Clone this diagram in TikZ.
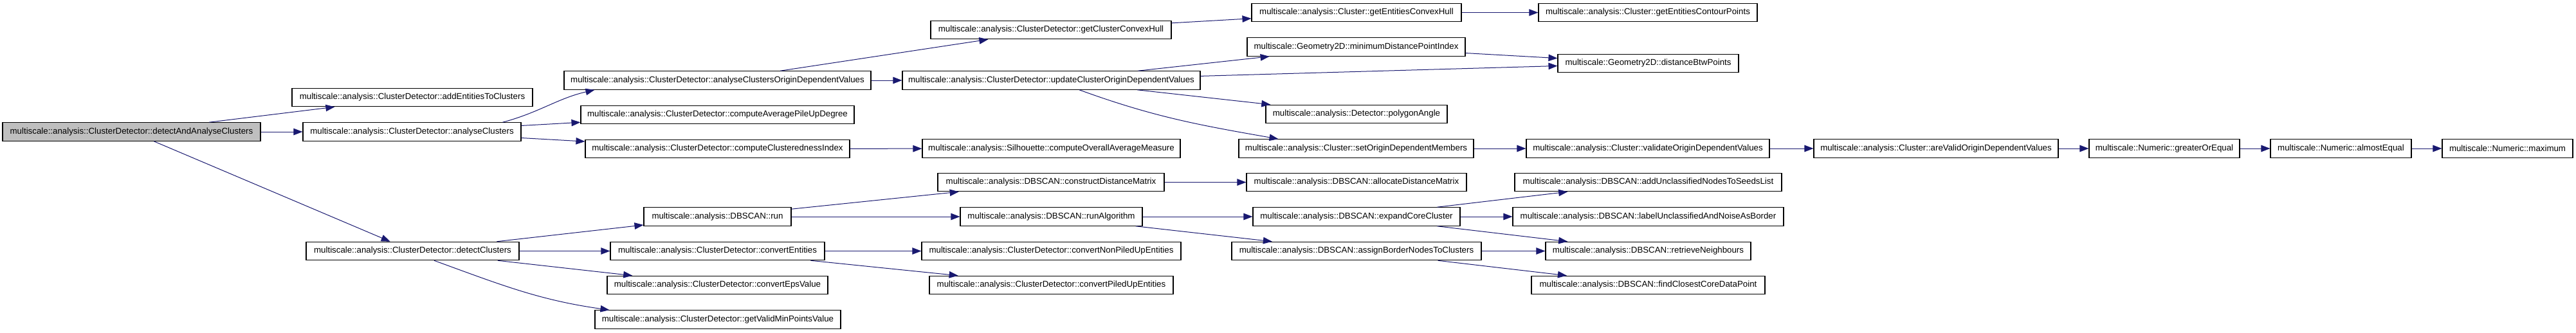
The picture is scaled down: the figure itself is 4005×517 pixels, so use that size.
\documentclass[tikz,border=0pt]{standalone}
\usepackage{fontspec}
\setmainfont{Liberation Sans}
\usetikzlibrary{arrows.meta,calc}
\definecolor{edgeblue}{HTML}{191970}
\definecolor{mainfill}{HTML}{BFBFBF}
\tikzset{
  fn/.style={draw=black, line width=1.1pt, rectangle, minimum height=28.5pt, inner sep=0pt,
    font=\fontsize{13.3}{16}\selectfont, anchor=center},
  edge/.style={draw=edgeblue, line width=1pt, -{Triangle[length=14pt,width=10.5pt,fill=edgeblue]}}
}
\begin{document}
\begin{tikzpicture}[x=1pt,y=1pt]
\useasboundingbox (0,0) rectangle (4005,-517);
% column 0
\node[fn, fill=mainfill, minimum width=401pt] (main) at (204.5,-205) {multiscale::analysis::ClusterDetector::detectAndAnalyseClusters};
% column 1
\node[fn, minimum width=374pt] (aetc) at (641,-151.5) {multiscale::analysis::ClusterDetector::addEntitiesToClusters};
\node[fn, minimum width=339pt] (ac) at (640.5,-205) {multiscale::analysis::ClusterDetector::analyseClusters};
\node[fn, minimum width=331pt] (dc) at (641.5,-390.5) {multiscale::analysis::ClusterDetector::detectClusters};
% column 2
\node[fn, minimum width=477pt] (acodv) at (1115.5,-125) {multiscale::analysis::ClusterDetector::analyseClustersOriginDependentValues};
\node[fn, minimum width=425pt] (capud) at (1115.5,-178.5) {multiscale::analysis::ClusterDetector::computeAveragePileUpDegree};
\node[fn, minimum width=411pt] (cci) at (1115.5,-231.5) {multiscale::analysis::ClusterDetector::computeClusterednessIndex};
\node[fn, minimum width=229pt] (run) at (1115.5,-337) {multiscale::analysis::DBSCAN::run};
\node[fn, minimum width=333pt] (ce) at (1115.5,-390.5) {multiscale::analysis::ClusterDetector::convertEntities};
\node[fn, minimum width=343pt] (cev) at (1115.5,-443.5) {multiscale::analysis::ClusterDetector::convertEpsValue};
\node[fn, minimum width=382pt] (gvmp) at (1116,-497) {multiscale::analysis::ClusterDetector::getValidMinPointsValue};
% column 3
\node[fn, minimum width=374pt] (gcch) at (1634,-46.5) {multiscale::analysis::ClusterDetector::getClusterConvexHull};
\node[fn, minimum width=463pt] (ucodv) at (1634.5,-125) {multiscale::analysis::ClusterDetector::updateClusterOriginDependentValues};
\node[fn, minimum width=401pt] (coam) at (1634.5,-231) {multiscale::analysis::Silhouette::computeOverallAverageMeasure};
\node[fn, minimum width=352pt] (cdm) at (1634,-283.5) {multiscale::analysis::DBSCAN::constructDistanceMatrix};
\node[fn, minimum width=283pt] (ra) at (1634.5,-337) {multiscale::analysis::DBSCAN::runAlgorithm};
\node[fn, minimum width=403pt] (cnpue) at (1634.5,-390.5) {multiscale::analysis::ClusterDetector::convertNonPiledUpEntities};
\node[fn, minimum width=379pt] (cpue) at (1634.5,-443.5) {multiscale::analysis::ClusterDetector::convertPiledUpEntities};
% column 4
\node[fn, minimum width=326pt] (gech) at (2109,-19.5) {multiscale::analysis::Cluster::getEntitiesConvexHull};
\node[fn, minimum width=339pt] (mdpi) at (2108.5,-73) {multiscale::Geometry2D::minimumDistancePointIndex};
\node[fn, minimum width=282pt] (pa) at (2109,-177.5) {multiscale::analysis::Detector::polygonAngle};
\node[fn, minimum width=365pt] (sodm) at (2108.5,-231) {multiscale::analysis::Cluster::setOriginDependentMembers};
\node[fn, minimum width=342pt] (adm) at (2109,-283.5) {multiscale::analysis::DBSCAN::allocateDistanceMatrix};
\node[fn, minimum width=322pt] (ecc) at (2109,-337) {multiscale::analysis::DBSCAN::expandCoreCluster};
\node[fn, minimum width=388pt] (abnc) at (2109,-390.5) {multiscale::analysis::DBSCAN::assignBorderNodesToClusters};
% column 5
\node[fn, minimum width=340pt] (gecp) at (2562,-19.5) {multiscale::analysis::Cluster::getEntitiesContourPoints};
\node[fn, minimum width=281pt] (dbp) at (2562.5,-98.5) {multiscale::Geometry2D::distanceBtwPoints};
\node[fn, minimum width=378pt] (vodv) at (2562,-231) {multiscale::analysis::Cluster::validateOriginDependentValues};
\node[fn, minimum width=415pt] (aun) at (2562.5,-283.5) {multiscale::analysis::DBSCAN::addUnclassifiedNodesToSeedsList};
\node[fn, minimum width=421pt] (luanb) at (2562.5,-337) {multiscale::analysis::DBSCAN::labelUnclassifiedAndNoiseAsBorder};
\node[fn, minimum width=319pt] (rn) at (2562.5,-390.5) {multiscale::analysis::DBSCAN::retrieveNeighbours};
\node[fn, minimum width=363pt] (fccdp) at (2562.5,-443.5) {multiscale::analysis::DBSCAN::findClosestCoreDataPoint};
% columns 6+
\node[fn, minimum width=380pt] (avodv) at (3010,-231) {multiscale::analysis::Cluster::areValidOriginDependentValues};
\node[fn, minimum width=234pt] (goe) at (3365,-231) {multiscale::Numeric::greaterOrEqual};
\node[fn, minimum width=219pt] (ae) at (3639.5,-231) {multiscale::Numeric::almostEqual};
\node[fn, minimum width=203pt] (max) at (3898.5,-231) {multiscale::Numeric::maximum};
% edges
\draw[edge] (main) -- (aetc);
\draw[edge] (main) -- (ac);
\draw[edge] (main) -- (dc);
\draw[edge] ($(ac.north east)+(-29,0)$) to[out=15,in=193] ($(acodv.south west)+(48,0)$);
\draw[edge] (ac) -- (capud);
\draw[edge] (ac) -- (cci);
\draw[edge] (dc) -- (run);
\draw[edge] (dc) -- (ce);
\draw[edge] (dc) -- (cev);
\draw[edge] ($(dc.south)+(33.5,0)$) to[out=-20,in=172] ($(gvmp.north west)+(23,0)$);
\draw[edge] (acodv) -- (gcch);
\draw[edge] (acodv) -- (ucodv);
\draw[edge] (cci) -- (coam);
\draw[edge] (run) -- (cdm);
\draw[edge] (run) -- (ra);
\draw[edge] (ce) -- (cnpue);
\draw[edge] (ce) -- (cpue);
\draw[edge] (gcch) -- (gech);
\draw[edge] (ucodv) -- (mdpi);
\draw[edge] (ucodv) -- (dbp);
\draw[edge] (ucodv) -- (pa);
\draw[edge] ($(ucodv.south)+(43.5,0)$) to[out=-20,in=170] ($(sodm.north west)+(62,0)$);
\draw[edge] (cdm) -- (adm);
\draw[edge] (ra) -- (ecc);
\draw[edge] (ra) -- (abnc);
\draw[edge] (gech) -- (gecp);
\draw[edge] (mdpi) -- (dbp);
\draw[edge] (sodm) -- (vodv);
\draw[edge] (ecc) -- (aun);
\draw[edge] (ecc) -- (luanb);
\draw[edge] (ecc) -- (rn);
\draw[edge] (abnc) -- (rn);
\draw[edge] (abnc) -- (fccdp);
\draw[edge] (vodv) -- (avodv);
\draw[edge] (avodv) -- (goe);
\draw[edge] (goe) -- (ae);
\draw[edge] (ae) -- (max);
\end{tikzpicture}
\end{document}
